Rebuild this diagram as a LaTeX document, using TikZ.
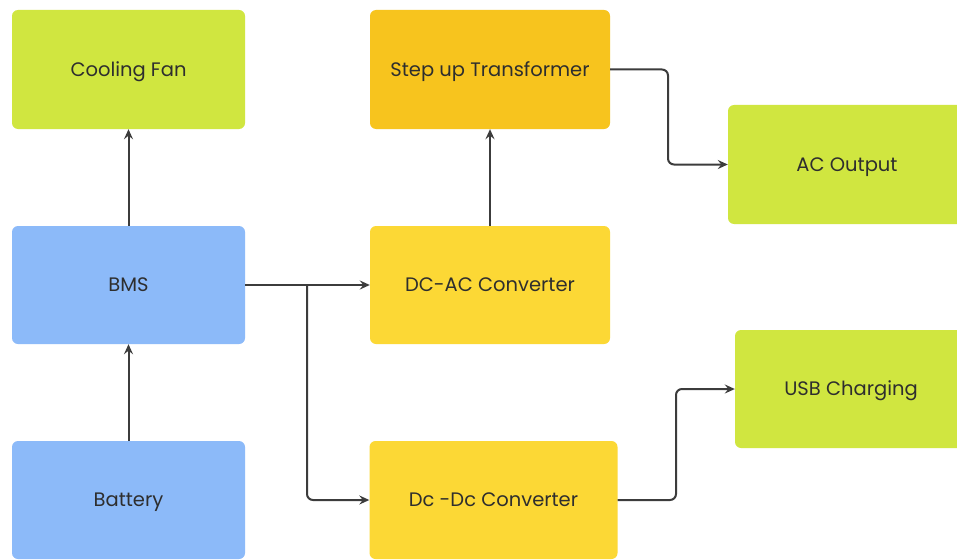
\documentclass[tikz,border=0pt]{standalone}
\usepackage{fontspec}
\setmainfont{Poppins}
\usetikzlibrary{arrows.meta}
\definecolor{limebox}{HTML}{D0E640}
\definecolor{bluebox}{HTML}{8CBAF9}
\definecolor{yellowbox}{HTML}{FCD835}
\definecolor{amberbox}{HTML}{F7C41E}
\definecolor{inkgrey}{HTML}{2E2E2E}
\definecolor{linkgrey}{HTML}{3C3C3C}
\begin{document}
\begin{tikzpicture}[x=1pt,y=-1pt,
  block/.style={rectangle, rounded corners=6pt, inner sep=0pt, text=inkgrey,
    text height=13.6pt, text depth=0pt,
    font=\fontsize{19.5}{22}\selectfont},
  link/.style={draw=linkgrey, line width=2pt, rounded corners=6pt,
    -{Stealth[length=10pt,width=9pt,inset=3.5pt]}}]
\useasboundingbox (0,0) rectangle (957,559);
\fill[white] (0,0) rectangle (957,559);
\begin{scope}
\clip (0,0) rectangle (957,559);
\node[block, fill=limebox, minimum width=233pt, minimum height=119pt] (fan) at (128.5,69.5) {Cooling Fan};
\node[block, fill=amberbox, minimum width=240pt, minimum height=119pt] (step) at (490,69.5) {Step up Transformer};
\node[block, fill=limebox, minimum width=238pt, minimum height=119pt] (acout) at (847,164.5) {AC Output};
\node[block, fill=bluebox, minimum width=233pt, minimum height=118pt] (bms) at (128.5,285) {BMS};
\node[block, fill=yellowbox, minimum width=240pt, minimum height=118pt] (dcac) at (490,285) {DC-AC Converter};
\node[block, fill=limebox, minimum width=232pt, minimum height=118pt] (usb) at (851,389) {USB Charging};
\node[block, fill=bluebox, minimum width=233pt, minimum height=118pt] (batt) at (128.5,500) {Battery};
\node[block, fill=yellowbox, minimum width=248pt, minimum height=118pt] (dcdc) at (493.5,500) {Dc -Dc Converter};
\end{scope}
% vertical links
\draw[link] (batt.north) -- (bms.south);
\draw[link] (bms.north) -- (fan.south);
\draw[link] (dcac.north) -- (step.south);
% BMS feeds both converters
\coordinate (split) at (307,285);
\draw[link] (bms.east) -- (dcac.west);
\draw[link] (split) -- (split |- dcdc.west) -- (dcdc.west);
% outputs
\draw[link] (step.east) -- (668,69.5) -- (668,164.5) -- (acout.west);
\draw[link] (dcdc.east) -- (676,500) -- (676,389) -- (usb.west);
\end{tikzpicture}
\end{document}
